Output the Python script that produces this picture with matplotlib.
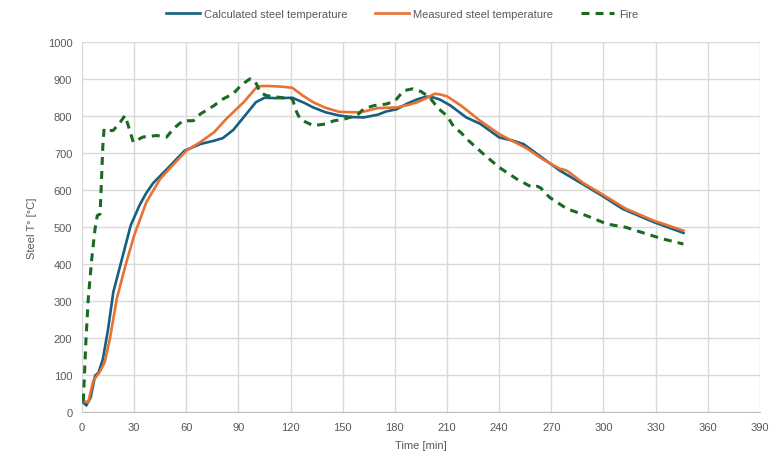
import matplotlib
matplotlib.use('Agg')
import matplotlib.pyplot as plt

# Calculated steel temperature
t_calc = [0, 2.5, 5, 7.5, 9.5, 12, 15, 18, 23, 28, 33, 37, 41, 49, 59, 68, 76, 81, 87, 95, 100,
          105, 112, 121, 128, 133, 140, 148, 155, 162, 170, 175, 181, 187, 193, 198, 202, 206,
          212, 221, 229, 240, 248, 254, 263, 275, 288, 299, 311, 329, 346]
T_calc = [30, 18, 40, 98, 107, 143, 224, 324, 414, 504, 558, 592, 619, 657, 706, 724, 733, 740, 762, 808, 837,
          849, 848, 849, 835, 823, 810, 801, 797, 796, 803, 812, 818, 833, 845, 852, 850, 844,
          828, 796, 779, 742, 733, 724, 693, 652, 616, 585, 549, 513, 484]

# Measured steel temperature
t_meas = [0, 3.5, 6.5, 10, 13, 16, 20, 25, 30, 37, 45, 52, 60, 68, 76, 83, 93, 100, 102, 106,
          115, 121, 127, 133, 140, 148, 155, 160, 165, 170, 181, 188, 193, 198, 203, 206, 210,
          218, 229, 240, 256, 265, 275, 277, 279, 288, 299, 313, 329, 346]
T_meas = [32, 26, 85, 107, 134, 197, 306, 396, 477, 567, 630, 666, 706, 729, 756, 792, 837, 875, 880, 881,
          879, 876, 855, 837, 822, 811, 810, 810, 815, 821, 823, 830, 837, 848, 860, 858, 853,
          828, 787, 751, 712, 683, 657, 655, 652, 620, 589, 549, 517, 490]

# Fire
t_fire = [0, 0.8, 2.3, 3.6, 5.6, 7.5, 8.8, 10.4, 11, 12, 12.7, 15, 18, 22, 24.7, 26.6, 29.5, 35, 43,
          48.7, 52.5, 58, 64, 68, 76, 80, 87, 92, 96.6, 99.5, 102.4, 106, 112, 121, 123.5, 125.5,
          128, 133, 140, 145, 150, 154, 158, 162, 168, 175, 180, 185, 190, 195, 200, 205, 210,
          214, 218, 222, 231, 240, 250, 259, 262, 264, 269, 279, 290, 302, 313, 325, 334, 346]
T_fire = [30, 35, 197, 306, 414, 495, 531, 535, 603, 720, 765, 760, 761, 783, 801, 774, 729, 743, 747,
          743, 765, 787, 787, 805, 828, 843, 860, 885, 900, 895, 864, 855, 851, 846, 810, 792,
          785, 774, 778, 787, 790, 796, 800, 819, 828, 832, 840, 868, 873, 866, 850, 820, 800,
          770, 755, 735, 697, 661, 630, 607, 610, 605, 580, 549, 531, 508, 499, 481, 468, 454]

x_ticks = list(range(0, 391, 30))
y_ticks = list(range(0, 1001, 100))

txt_color = '#595959'
plt.rcParams['font.family'] = ['Liberation Sans', 'DejaVu Sans']

fig = plt.figure(figsize=(7.81, 4.56), dpi=100)
ax = fig.add_axes([0.105, 0.094, 0.868, 0.812])

ax.plot(t_calc, T_calc, color='#156082', lw=1.9, label='Calculated steel temperature', zorder=3)
ax.plot(t_meas, T_meas, color='#E97132', lw=1.9, label='Measured steel temperature', zorder=3)
ax.plot(t_fire, T_fire, color='#196B24', lw=2.2, ls=(0, (2.6, 2.0)), label='Fire', zorder=3)

ax.set_xlim(0, 390)
ax.set_ylim(0, 1000)
ax.set_xticks(x_ticks)
ax.set_yticks(y_ticks)
ax.grid(True, color='#d9d9d9', lw=1.0)
ax.set_axisbelow(True)
for s in ['top', 'right', 'left']:
    ax.spines[s].set_visible(False)
ax.spines['bottom'].set_color('#bfbfbf')
ax.tick_params(length=0, labelsize=8, colors=txt_color, pad=7)

ax.set_xlabel('Time [min]', fontsize=8, color=txt_color, labelpad=6)
ax.set_ylabel('Steel T° [°C]', fontsize=8, color=txt_color, labelpad=8)

fig.legend(loc='center', bbox_to_anchor=(0.515, 0.967), ncol=3, frameon=False,
           fontsize=8, labelcolor=txt_color, handlelength=3.0, columnspacing=2.5,
           handletextpad=0.4)

fig.savefig('out.png', dpi=100)
